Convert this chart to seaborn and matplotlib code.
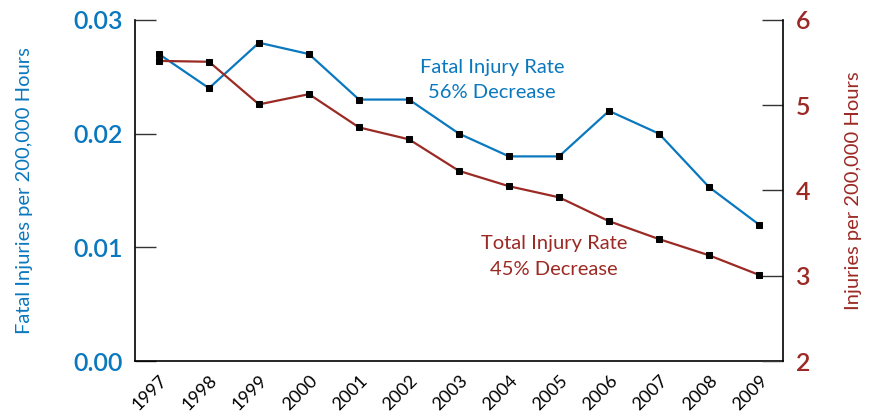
import matplotlib
matplotlib.use("Agg")
from matplotlib import pyplot as plt
import seaborn as sns
import pandas as pd

# data
years = [1997, 1998, 1999, 2000, 2001, 2002, 2003, 2004, 2005, 2006, 2007, 2008, 2009]
fatal_rate = [0.027, 0.024, 0.028, 0.027, 0.023, 0.023, 0.020, 0.018, 0.018, 0.022, 0.020, 0.0153, 0.012]
total_rate = [5.52, 5.51, 5.01, 5.13, 4.74, 4.60, 4.23, 4.05, 3.92, 3.64, 3.43, 3.24, 3.01]
left_ticks = [0.00, 0.01, 0.02, 0.03]
left_labels = ["0.00", "0.01", "0.02", "0.03"]
right_ticks = [2, 3, 4, 5, 6]

df = pd.DataFrame({"year": years, "fatal": fatal_rate, "total": total_rate})

blue = "#0a78be"
red = "#9b2a24"

sns.set_style("white")
plt.rcParams["font.family"] = ["Lato", "DejaVu Sans"]

fig = plt.figure(figsize=(8.71, 4.19), dpi=100)
ax = fig.add_axes([0.155, 0.1384, 0.744, 0.8139])
ax2 = ax.twinx()

# fatal injury rate (left axis)
sns.lineplot(data=df, x="year", y="fatal", ax=ax, color=blue, linewidth=1.6,
             marker="s", markersize=5, markerfacecolor="black", markeredgecolor="black")
# total injury rate (right axis)
sns.lineplot(data=df, x="year", y="total", ax=ax2, color=red, linewidth=1.6,
             marker="s", markersize=5, markerfacecolor="black", markeredgecolor="black")

ax.set_xlim(1996.52, 2009.48)
ax.set_ylim(0, 0.03)
ax2.set_ylim(2, 6)

ax.set_yticks(left_ticks)
ax.set_yticklabels(left_labels)
ax2.set_yticks(right_ticks)
ax.set_xticks(years)
ax.set_xticklabels([str(y) for y in years], rotation=45, ha="right", rotation_mode="anchor")

for a in (ax, ax2):
    a.spines["top"].set_visible(False)
    for s in a.spines.values():
        s.set_color("black")
        s.set_linewidth(1.2)
ax.spines["right"].set_visible(False)
ax2.spines["left"].set_visible(False)
ax2.spines["bottom"].set_visible(False)

ax.tick_params(axis="y", direction="in", length=15, width=1, colors="#333333",
               labelcolor=blue, labelsize=18, pad=9)
ax.tick_params(axis="x", direction="in", length=8, width=1, colors="black",
               labelsize=13, pad=8)
ax2.tick_params(axis="y", direction="in", length=15, width=1, colors="#333333",
                labelcolor=red, labelsize=18, pad=9)
for lab in ax.get_yticklabels() + ax2.get_yticklabels():
    lab.set_fontweight("semibold")

ax.set_xlabel("")
ax.set_ylabel("Fatal Injuries per 200,000 Hours", color=blue, fontsize=14.5, labelpad=29)
ax2.set_ylabel("Injuries per 200,000 Hours", color=red, fontsize=14.5, labelpad=25)

ax.text(2003.66, 0.0247, "Fatal Injury Rate\n56% Decrease", color=blue, fontsize=14.5,
        ha="center", va="center", linespacing=1.6)
ax.text(2004.9, 0.0092, "Total Injury Rate\n45% Decrease", color=red, fontsize=14.5,
        ha="center", va="center", linespacing=1.6)

fig.savefig("out.png", dpi=100)
